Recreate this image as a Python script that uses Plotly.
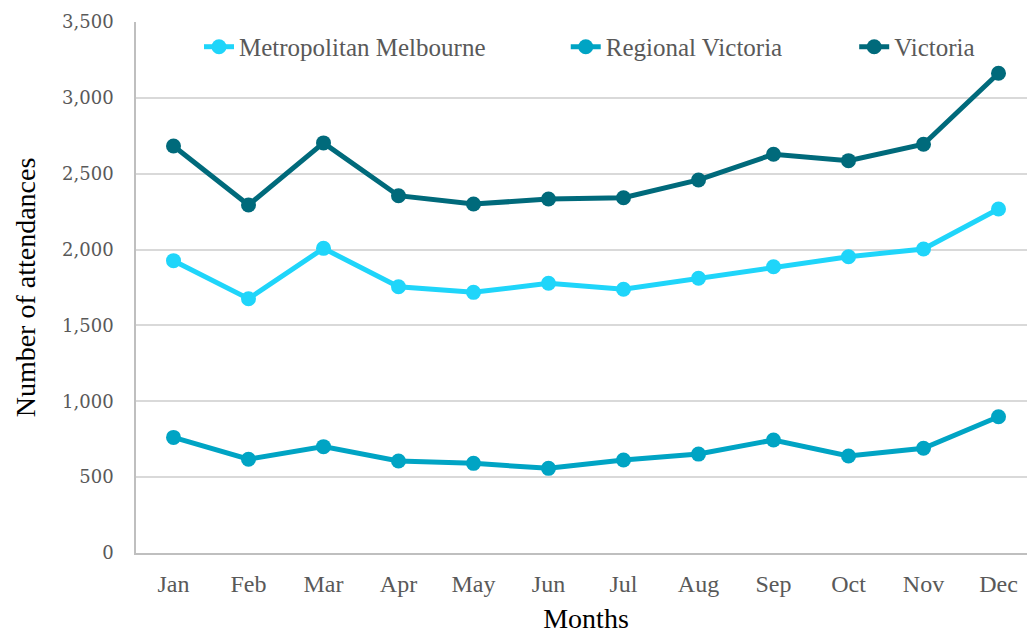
import plotly.graph_objects as go

months = ["Jan", "Feb", "Mar", "Apr", "May", "Jun", "Jul", "Aug", "Sep", "Oct", "Nov", "Dec"]
metro = [1927, 1676, 2008, 1755, 1718, 1778, 1738, 1811, 1887, 1953, 2004, 2267]
regional = [762, 618, 701, 606, 591, 558, 613, 652, 745, 639, 690, 898]
victoria = [2683, 2294, 2703, 2355, 2300, 2333, 2342, 2459, 2628, 2586, 2694, 3162]

series = [
    ("Metropolitan Melbourne", metro, "#1fd5fa", "legend", 0.070),
    ("Regional Victoria", regional, "#00a4c4", "legend2", 0.4775),
    ("Victoria", victoria, "#006a7b", "legend3", 0.798),
]

serif = "Liberation Serif"
legend_font = dict(family=serif, size=25, color="#595959")

fig = go.Figure()
legends = {}
for name, vals, col, leg, lx in series:
    fig.add_trace(go.Scatter(
        x=months, y=vals, name=name, mode="lines+markers",
        line=dict(color=col, width=5),
        marker=dict(color=col, size=15),
        legend=leg,
    ))
    legends[leg] = dict(
        x=lx, y=0.953, xanchor="left", yanchor="middle",
        font=legend_font, bgcolor="rgba(0,0,0,0)",
    )

fig.update_layout(
    width=1028, height=626,
    margin=dict(l=128, r=0, t=14, b=81),
    paper_bgcolor="white", plot_bgcolor="white",
    showlegend=True,
    **legends,
    xaxis=dict(
        type="category", range=[-0.5, 11.5], automargin=False,
        showgrid=False, showline=True, linecolor="#bfbfbf", linewidth=1.5,
        ticks="", ticklabelstandoff=8,
        tickfont=dict(family=serif, size=24, color="#595959"),
        title=dict(text="Months", font=dict(family=serif, size=28, color="black"), standoff=19),
    ),
    yaxis=dict(
        range=[0, 3500], dtick=500, tickformat=",", automargin=False,
        showgrid=True, gridcolor="#d9d9d9", gridwidth=1.5,
        showline=True, linecolor="#bfbfbf", linewidth=1.5,
        zeroline=False, ticks="", ticklabelstandoff=17,
        tickfont=dict(family="DejaVu Serif", size=18, color="#595959"),
        title=dict(text="Number of attendances", font=dict(family=serif, size=28, color="black"), standoff=18),
    ),
)

fig.write_html("out.html")
